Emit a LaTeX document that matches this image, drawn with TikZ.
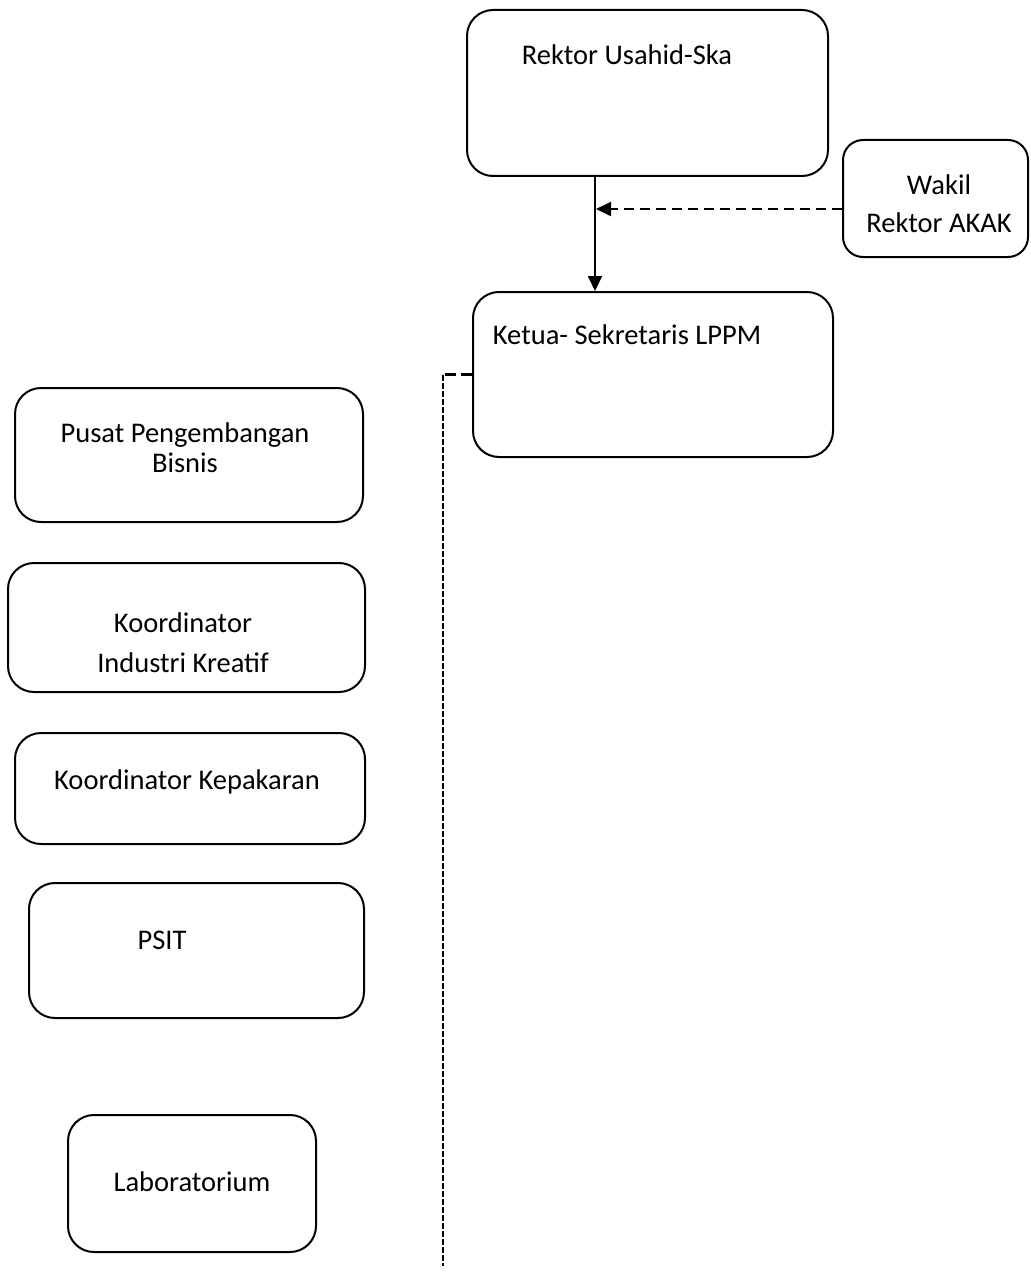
\documentclass[tikz,border=0pt]{standalone}
\usepackage{fontspec}
\setmainfont{Carlito}
\usetikzlibrary{arrows.meta}
\begin{document}
\begin{tikzpicture}[x=1pt,y=-1pt,
  box/.style={draw,line width=2pt,rounded corners=26pt,inner sep=0pt},
  lbl/.style={font=\fontsize{28.5}{34}\selectfont,inner sep=0pt,align=center},
  tip/.style={-{Triangle[length=15pt,width=14pt]}},
  solidline/.style={line width=2.2pt},
  dashline/.style={line width=2pt,dash pattern=on 10pt off 6pt},
  thickdash/.style={line width=3pt,dash pattern=on 11pt off 5pt},
  thindash/.style={line width=2pt,dash pattern=on 6.5pt off 1.5pt}]
\useasboundingbox (0,0) rectangle (1030,1273);
% boxes
\node[box,minimum width=361pt,minimum height=166pt] (rektor) at (647.5,93) {};
\node[box,rounded corners=20pt,minimum width=185pt,minimum height=117pt] (wakil) at (935.5,198.5) {};
\node[box,minimum width=360pt,minimum height=165pt] (ketua) at (653,374.5) {};
\node[box,minimum width=348pt,minimum height=134pt] (pusat) at (189,455) {};
\node[box,minimum width=357pt,minimum height=129pt] (industri) at (186.5,627.5) {};
\node[box,minimum width=350pt,minimum height=111pt] (kepakaran) at (190,788.5) {};
\node[box,minimum width=335pt,minimum height=135pt] (psit) at (196.5,950.5) {};
\node[box,minimum width=248pt,minimum height=137pt] (lab) at (192,1183.5) {};
% labels
\node[lbl] (trektor) at (627,55) {Rektor Usahid-Ska};
\node[lbl,font=\fontsize{28.5}{38}\selectfont] (twakil) at (939,204) {Wakil\\Rektor AKAK};
\node[lbl] (tketua) at (627,335) {Ketua- Sekretaris LPPM};
\node[lbl,font=\fontsize{28.5}{30}\selectfont] (tpusat) at (185,448) {Pusat Pengembangan\\Bisnis};
\node[lbl,font=\fontsize{28.5}{40}\selectfont] (tindustri) at (183,643) {Koordinator\\Industri Kreatif};
\node[lbl] (tkepakaran) at (187,782) {Koordinator Kepakaran};
\node[lbl] (tpsit) at (162,940) {PSIT};
\node[lbl] (tlab) at (192,1182) {Laboratorium};
% connectors
\coordinate (ax) at (595,0);
\coordinate (dy) at (0,209);
\coordinate (corner) at (443,374.5);
\coordinate (dend) at (443,1266);
\draw[solidline,tip] (ax |- rektor.south) -- (ax |- ketua.north);
\draw[dashline,tip] (wakil.west |- dy) -- ([xshift=1pt]ax |- dy);
\draw[thickdash] (ketua.west) -- (corner);
\draw[thindash] (corner) -- (dend);
\end{tikzpicture}
\end{document}
